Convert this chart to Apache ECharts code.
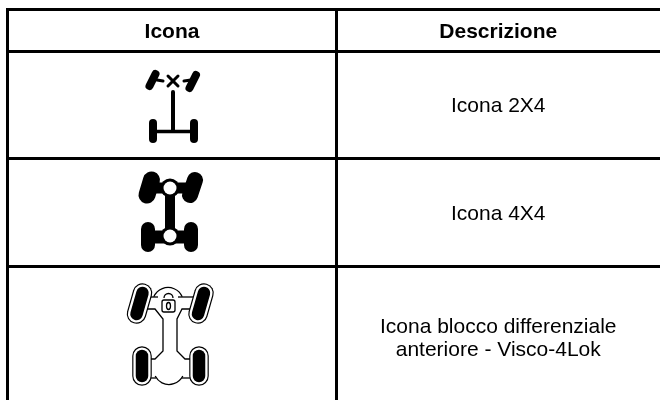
<!DOCTYPE html>
<html>
<head>
<meta charset="utf-8">
<style>
html, body { margin: 0; padding: 0; background: #fff; }
#main { width: 660px; height: 400px; }
</style>
<script src="https://cdn.jsdelivr.net/npm/echarts@6/dist/echarts.min.js"></script>
</head>
<body>
<div id="main"></div>
<script>
// tabella
var headers = ['Icona', 'Descrizione'];
var descriptions = ['Icona 2X4', 'Icona 4X4', 'Icona blocco differenziale\nanteriore - Visco-4Lok'];
var columnEdges = [7.5, 336.5, 660];
var rowEdges = [9.5, 51.5, 158.5, 266.5, 407];

var chart = echarts.init(document.getElementById('main'), null, { renderer: 'canvas' });

// righe e colonne della griglia
var ruleData = [];
rowEdges.slice(0, 4).forEach(function (y) {
    ruleData.push([columnEdges[0] - 1.5, y, columnEdges[2], y]);
});
columnEdges.slice(0, 2).forEach(function (x) {
    ruleData.push([x, rowEdges[0], x, rowEdges[4]]);
});

// testi centrati nelle celle
var textData = [];
headers.forEach(function (name, c) {
    textData.push([(columnEdges[c] + columnEdges[c + 1]) / 2, (rowEdges[0] + rowEdges[1]) / 2, name, 1]);
});
descriptions.forEach(function (name, r) {
    textData.push([(columnEdges[1] + columnEdges[2]) / 2, (rowEdges[r + 1] + rowEdges[r + 2]) / 2, name, 0]);
});

// pezzi delle icone
function line(x1, y1, x2, y2, w, color) {
    return {
        type: 'line',
        shape: { x1: x1, y1: y1, x2: x2, y2: y2 },
        style: { stroke: color || '#000', lineWidth: w, lineCap: 'round' }
    };
}
function thin(points) {
    return {
        type: 'polyline',
        shape: { points: points },
        style: { stroke: '#000', lineWidth: 1.3, fill: null }
    };
}
function arc(cx, cy, r, a, b) {
    return {
        type: 'arc',
        shape: { cx: cx, cy: cy, r: r, startAngle: a, endAngle: b, clockwise: true },
        style: { stroke: '#000', lineWidth: 1.3, fill: null }
    };
}
function circle(cx, cy, r, fill) {
    return { type: 'circle', shape: { cx: cx, cy: cy, r: r }, style: { fill: fill } };
}
function lockWheel(x1, y1, x2, y2) {
    return [
        line(x1, y1, x2, y2, 19.5),
        line(x1, y1, x2, y2, 17.2, '#fff'),
        line(x1, y1, x2, y2, 12.5)
    ];
}

var icon2x4 = [
    line(155.5, 74, 149.5, 86, 8),
    line(196, 75, 189.5, 88, 8),
    line(157, 80, 163, 81, 3),
    line(184, 81, 191, 80, 3),
    line(168, 76, 178, 86, 3),
    line(178, 76, 168, 86, 3),
    line(173, 92, 173, 131, 4),
    line(153, 131.5, 194, 131.5, 3.5),
    line(153, 123, 153, 139, 8),
    line(194, 123, 194, 139, 8)
];

var icon4x4 = [
    line(170, 188, 170, 236, 10),
    line(150, 188, 190, 188, 11),
    line(150, 237, 190, 237, 13),
    line(151.5, 180, 147, 195, 17),
    line(195, 180, 190, 195, 16),
    line(148, 229, 148, 245, 14),
    line(191, 229, 191, 245, 14),
    circle(170, 188, 9.5, '#000'),
    circle(170, 236, 9.5, '#000'),
    circle(170, 188, 6.5, '#fff'),
    circle(170, 236, 6.5, '#fff')
];

var iconLock = [
    thin([[150, 297], [158, 297]]),
    arc(168, 303, 15.5, Math.PI * 1.13, Math.PI * 1.87),
    thin([[178, 297], [196, 297]]),
    thin([[146, 309], [155, 309], [163, 319], [163, 351], [155, 359], [150, 359]]),
    thin([[192, 309], [182, 309], [177, 319], [177, 351], [185, 359], [192, 359]]),
    thin([[150, 378], [156, 378]]),
    arc(169, 369, 15.5, Math.PI * 0.15, Math.PI * 0.85),
    thin([[182, 378], [192, 378]])
].concat(
    lockWheel(142.5, 293, 136.5, 314),
    lockWheel(204, 293, 198, 314),
    lockWheel(142, 356, 142, 376),
    lockWheel(199, 356, 199, 376),
    [
        arc(168.5, 298, 4.5, Math.PI, 0),
        {
            type: 'rect',
            shape: { x: 162, y: 300, width: 13, height: 12, r: 2 },
            style: { fill: '#fff', stroke: '#000', lineWidth: 1.3 }
        },
        {
            type: 'ellipse',
            shape: { cx: 168.5, cy: 306, rx: 2, ry: 3.5 },
            style: { fill: '#fff', stroke: '#000', lineWidth: 1.3 }
        }
    ]
);

var option = {
    animation: false,
    grid: { left: 0, right: 0, top: 0, bottom: 0 },
    xAxis: { type: 'value', min: 0, max: 660, show: false },
    yAxis: { type: 'value', min: 0, max: 400, inverse: true, show: false },
    graphic: icon2x4.concat(icon4x4, iconLock),
    series: [
        {
            type: 'custom',
            silent: true,
            clip: false,
            data: ruleData,
            renderItem: function (params, api) {
                var a = api.coord([api.value(0), api.value(1)]);
                var b = api.coord([api.value(2), api.value(3)]);
                return {
                    type: 'line',
                    shape: { x1: a[0], y1: a[1], x2: b[0], y2: b[1] },
                    style: { stroke: '#000', lineWidth: 3 }
                };
            }
        },
        {
            type: 'custom',
            silent: true,
            data: textData,
            encode: { x: 0, y: 1 },
            renderItem: function (params, api) {
                var p = api.coord([api.value(0), api.value(1)]);
                var row = textData[params.dataIndex];
                return {
                    type: 'text',
                    x: p[0],
                    y: p[1] + 1.5,
                    style: {
                        text: row[2],
                        fill: '#000',
                        align: 'center',
                        verticalAlign: 'middle',
                        fontFamily: 'Liberation Sans',
                        fontSize: 21,
                        fontWeight: row[3] ? 'bold' : 'normal',
                        lineHeight: 23
                    }
                };
            }
        }
    ]
};

chart.setOption(option);
</script>
</body>
</html>
